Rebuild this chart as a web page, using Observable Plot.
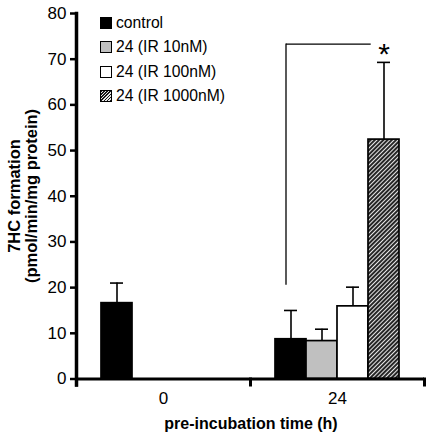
<!DOCTYPE html>
<html><head><meta charset="utf-8">
<script src="https://cdn.jsdelivr.net/npm/d3@7"></script>
<script src="https://cdn.jsdelivr.net/npm/@observablehq/plot@0.6"></script>
<style>
body{margin:0;background:#fff;font-family:"Liberation Sans",Arial,sans-serif;color:#000;}
#wrap{position:relative;width:427px;height:440px;overflow:hidden;}
#legend{position:absolute;left:100px;top:11px;font-size:15.7px;}
#legend .row{height:24.3px;display:flex;align-items:center;white-space:nowrap;}
#legend .sw{width:10px;height:10px;border:1px solid #000;margin-right:4px;box-sizing:content-box;}
#ytitle{position:absolute;left:22.5px;top:196px;transform:translate(-50%,-50%) rotate(-90deg);white-space:nowrap;text-align:center;font-weight:bold;font-size:16.5px;line-height:17px;}
#xtitle{position:absolute;left:251px;top:416px;transform:translateX(-50%);white-space:nowrap;font-weight:bold;font-size:16px;line-height:16px;}
</style></head>
<body><div id="wrap"></div>
<script>
// ---- data ----
const times = ["0", "24"];
const series = ["control", "24 (IR 10nM)", "24 (IR 100nM)", "24 (IR 1000nM)"];
const time0Values = [16.6];          // control only
const time0Upper  = [21.0];
const time24Values = [8.7, 8.3, 15.9, 52.4];
const time24Upper  = [15.0, 10.9, 20.1, 69.3];
const yTicks = [0, 10, 20, 30, 40, 50, 60, 70, 80];
const sigFrom = "control", sigTo = "24 (IR 1000nM)", sigTime = "24";
const sigLow = 20.5, sigLevel = 73.3, sigLabel = "*";
const yTitleLines = ["7HC formation", "(pmol/min/mg protein)"];
const xTitle = "pre-incubation time (h)";
const fills = ["#000000", "#c0c0c0", "#ffffff", "url(#hatch)"];
const swatchCss = ["#000000", "#c0c0c0", "#ffffff",
  "repeating-linear-gradient(-45deg,#1a1a1a 0 1.2px,#e8e8e8 1.2px 2.2px)"];

const bars = [
  ...time0Values.map((v, i) => ({time: "0", series: series[i], value: v, hi: time0Upper[i]})),
  ...time24Values.map((v, i) => ({time: "24", series: series[i], value: v, hi: time24Upper[i]}))
];
const sig = [{time: sigTime, from: sigFrom, to: sigTo, low: sigLow, level: sigLevel, label: sigLabel}];

const chart = Plot.plot({
  width: 427, height: 440,
  marginLeft: 76, marginRight: 3, marginTop: 13, marginBottom: 61.5,
  style: {fontFamily: "Liberation Sans, Arial, sans-serif", fontSize: "17px", background: "white", overflow: "visible", color: "black"},
  fx: {domain: times, padding: 0},
  x: {domain: series, paddingInner: 0, paddingOuter: 0.72, axis: null},
  y: {domain: [0, 80]},
  color: {domain: series, range: fills},
  marks: [
    Plot.barY(bars, {fx: "time", x: "series", y1: 0, y2: "value", fill: "series", stroke: "black", strokeWidth: 1.7}),
    Plot.ruleX(bars, {fx: "time", x: "series", y1: "value", y2: "hi", strokeWidth: 1.6}),
    Plot.tickY(bars, {fx: "time", x: "series", y: "hi", insetLeft: 9, insetRight: 9, strokeWidth: 1.6}),
    Plot.ruleX(sig, {fx: "time", x: "from", y1: "low", y2: "level", dx: -5, strokeWidth: 1.3}),
    Plot.ruleY(sig, {fx: "time", x1: "from", x2: "to", y: "level", insetLeft: 11, insetRight: 28.3, strokeWidth: 1.3}),
    Plot.text(sig, {fx: "time", x: "to", y: "level", text: "label", fontSize: 30, fontWeight: 300, dy: 10}),
    Plot.ruleY([0], {strokeWidth: 3}),
    Plot.frame({anchor: "left", facetAnchor: "left", strokeWidth: 3.5, insetBottom: -6}),
    Plot.frame({anchor: "left", insetTop: 365.5, insetBottom: -6, strokeWidth: 3}),
    Plot.frame({anchor: "right", facetAnchor: "right", insetTop: 365.5, insetBottom: -6, strokeWidth: 3}),
    Plot.axisY({ticks: yTicks, tickSize: 6, tickPadding: 4, strokeWidth: 2.5, fontSize: 17, label: null}),
    Plot.axisFx({anchor: "bottom", tickSize: 0, tickPadding: 13, fontSize: 17, label: null})
  ]
});

const ns = "http://www.w3.org/2000/svg";
const defs = document.createElementNS(ns, "defs");
defs.innerHTML = `<pattern id="hatch" width="3" height="3" patternUnits="userSpaceOnUse" patternTransform="rotate(45)">
<rect width="3" height="3" fill="#e8e8e8"/><line x1="1" y1="0" x2="1" y2="3" stroke="#111111" stroke-width="1.8"/></pattern>`;
chart.insertBefore(defs, chart.firstChild);

const wrap = document.getElementById("wrap");
wrap.appendChild(chart);

const legend = document.createElement("div");
legend.id = "legend";
series.forEach((s, i) => {
  const row = document.createElement("div"); row.className = "row";
  const sw = document.createElement("span"); sw.className = "sw"; sw.style.background = swatchCss[i];
  const tx = document.createElement("span"); tx.textContent = s;
  row.appendChild(sw); row.appendChild(tx); legend.appendChild(row);
});
wrap.appendChild(legend);

const yt = document.createElement("div"); yt.id = "ytitle";
yt.innerHTML = yTitleLines.map(l => `<div>${l}</div>`).join("");
wrap.appendChild(yt);
const xt = document.createElement("div"); xt.id = "xtitle"; xt.textContent = xTitle;
wrap.appendChild(xt);
</script></body></html>
